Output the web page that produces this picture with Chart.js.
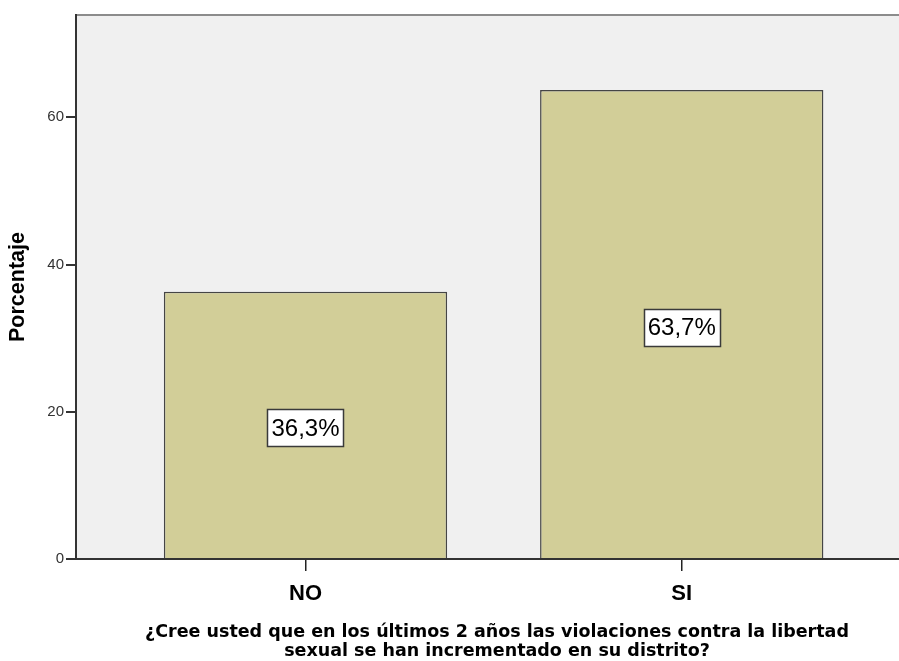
<!DOCTYPE html>
<html>
<head>
<meta charset="utf-8">
<script src="https://cdn.jsdelivr.net/npm/chart.js@4/dist/chart.umd.min.js"></script>
<style>
  html, body { margin: 0; padding: 0; overflow: hidden; background: #ffffff; }
  #wrap { position: relative; width: 918px; height: 661px; }
</style>
</head>
<body>
<div id="wrap"><canvas id="c"></canvas></div>
<script>
// ---- data ----
const categories = ['NO', 'SI'];
const percentages = [36.3, 63.7];
const yTickValues = [0, 20, 40, 60];
const yAxisTitle = 'Porcentaje';
const xAxisTitleLines = [
  '¿Cree usted que en los últimos 2 años las violaciones contra la libertad',
  'sexual se han incrementado en su distrito?'
];

const SANS = "'Liberation Sans', Arial, Helvetica, sans-serif";
const DEJAVU = "'DejaVu Sans', Verdana, sans-serif";

const plotBackground = {
  id: 'plotBackground',
  beforeDraw(chart) {
    const { ctx, chartArea: a } = chart;
    ctx.save();
    ctx.fillStyle = '#f0f0f0';
    ctx.fillRect(a.left, a.top, a.right - a.left, a.bottom - a.top);
    ctx.strokeStyle = '#8c8c8c';
    ctx.lineWidth = 2;
    ctx.beginPath();
    ctx.moveTo(a.left, a.top);
    ctx.lineTo(a.right, a.top);
    ctx.stroke();
    ctx.restore();
  }
};

const barLabels = {
  id: 'barLabels',
  afterDatasetsDraw(chart) {
    const { ctx } = chart;
    const meta = chart.getDatasetMeta(0);
    ctx.save();
    ctx.font = '24px ' + SANS;
    ctx.textAlign = 'center';
    ctx.textBaseline = 'middle';
    meta.data.forEach((bar, i) => {
      const txt = percentages[i].toFixed(1).replace('.', ',') + '%';
      const w = Math.round(ctx.measureText(txt).width + 8);
      const h = 37;
      const cy = (bar.y + bar.base) / 2 + 3;
      const cx = bar.x;
      const x0 = Math.round(cx - w / 2) + 0.5;
      const y0 = Math.round(cy - h / 2) + 0.5;
      ctx.fillStyle = '#ffffff';
      ctx.fillRect(x0, y0, w, h);
      ctx.strokeStyle = '#3a3a3a';
      ctx.lineWidth = 1.5;
      ctx.strokeRect(x0, y0, w, h);
      ctx.fillStyle = '#000000';
      ctx.fillText(txt, cx, cy + 1);
    });
    ctx.restore();
  }
};

new Chart(document.getElementById('c'), {
  type: 'bar',
  data: {
    datasets: [{
      data: categories.map((c, i) => ({ x: i, y: percentages[i] })),
      backgroundColor: '#d2ce98',
      borderColor: '#454545',
      borderWidth: 1.5,
      barPercentage: 0.753,
      categoryPercentage: 1
    }]
  },
  options: {
    responsive: true,
    maintainAspectRatio: false,
    animation: false,
    layout: { padding: { top: 15, right: 0, bottom: 0, left: 0 } },
    plugins: { legend: { display: false }, tooltip: { enabled: false } },
    scales: {
      x: {
        type: 'linear',
        offset: false,
        min: -0.61,
        max: 1.628,
        afterBuildTicks(scale) { scale.ticks = categories.map((c, i) => ({ value: i })); },
        afterFit(scale) { scale.height = 102; },
        ticks: {
          callback: (v) => categories[v],
          font: { family: SANS, size: 22, weight: 'bold' },
          color: '#000000',
          padding: 10,
          maxRotation: 0,
          autoSkip: false
        },
        grid: { offset: false, drawOnChartArea: false, drawTicks: true, tickLength: 12, color: '#222222', lineWidth: 1.5 },
        border: { display: true, color: '#333333', width: 2 },
        title: {
          display: true,
          text: xAxisTitleLines,
          font: { family: DEJAVU, size: 17.5, weight: 'bold', lineHeight: '19px' },
          color: '#000000',
          padding: { top: 0, bottom: 0 }
        }
      },
      y: {
        min: 0,
        max: 73.9,
        afterBuildTicks(scale) { scale.ticks = yTickValues.map(v => ({ value: v })); },
        afterFit(scale) { scale.width = 76; },
        ticks: {
          font: { family: SANS, size: 15 },
          color: '#333333',
          padding: 2
        },
        grid: { drawOnChartArea: false, drawTicks: true, tickLength: 10, color: '#333333', lineWidth: 2 },
        border: { display: true, color: '#333333', width: 2 },
        title: {
          display: true,
          text: yAxisTitle,
          font: { family: SANS, size: 21.5, weight: 'bold' },
          color: '#000000',
          padding: { top: 5, bottom: 0 }
        }
      }
    }
  },
  plugins: [plotBackground, barLabels]
});
</script>
</body>
</html>
